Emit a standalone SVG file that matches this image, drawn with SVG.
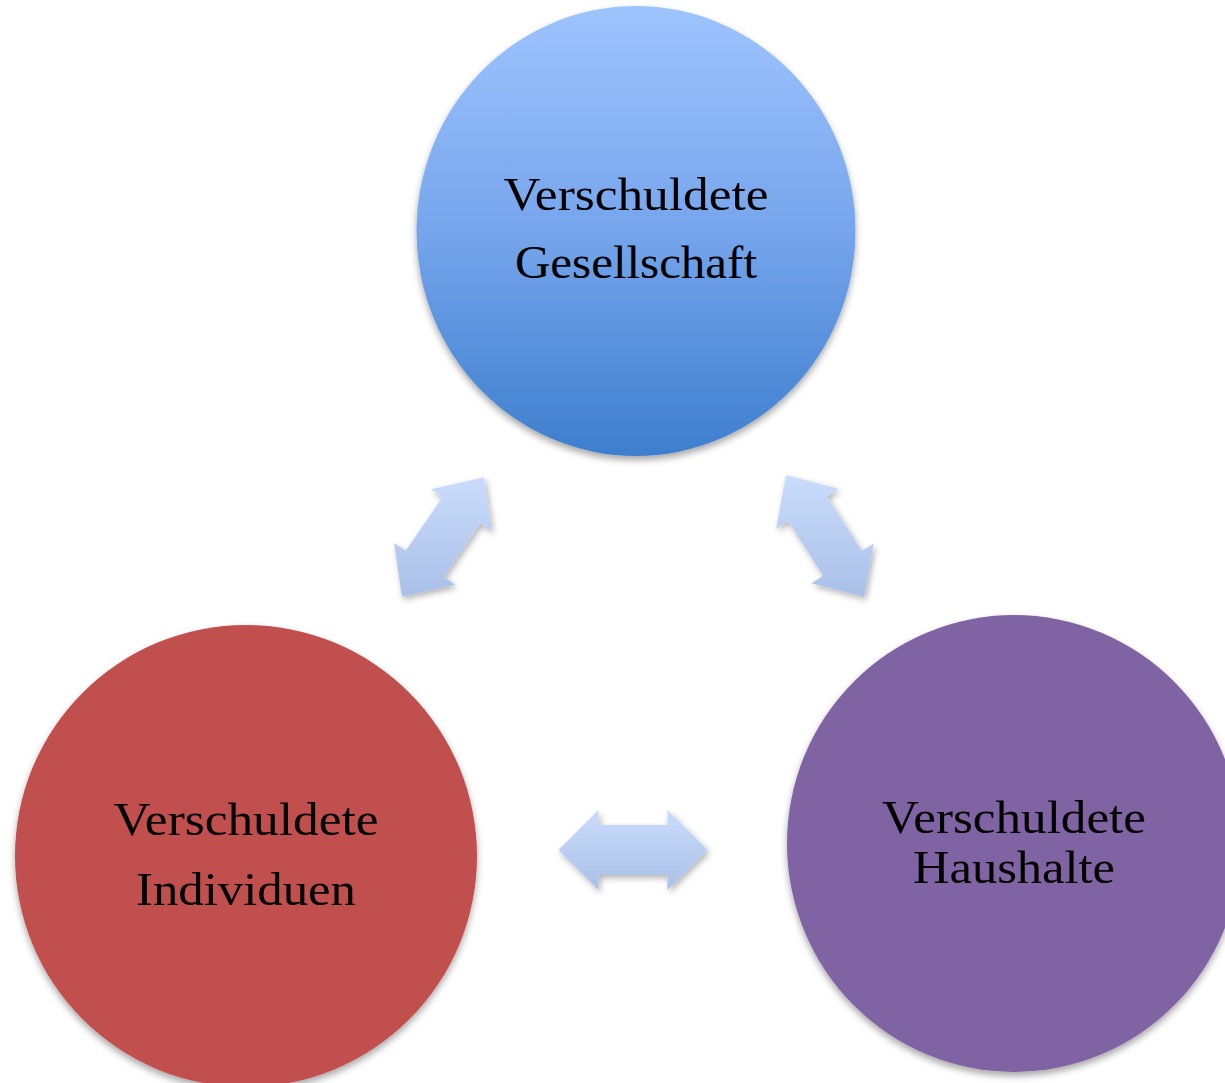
<svg xmlns="http://www.w3.org/2000/svg" width="1225" height="1083" viewBox="0 0 1225 1083">
<defs>
<linearGradient id="gBlue" x1="0" y1="0" x2="0" y2="1">
<stop offset="0" stop-color="#9ec4fe"/>
<stop offset="0.5" stop-color="#76a5ec"/>
<stop offset="1" stop-color="#3d7ecd"/>
</linearGradient>
<linearGradient id="gArrow" x1="0" y1="0" x2="0" y2="1">
<stop offset="0" stop-color="#cadcfc"/>
<stop offset="1" stop-color="#a9c0e7"/>
</linearGradient>
<filter id="shadow" x="-20%" y="-20%" width="140%" height="140%">
<feDropShadow dx="2" dy="3" stdDeviation="3" flood-color="#000" flood-opacity="0.3"/>
</filter>
<filter id="cshadow" x="-10%" y="-10%" width="120%" height="120%">
<feDropShadow dx="0" dy="4" stdDeviation="3.5" flood-color="#000" flood-opacity="0.35"/>
</filter>
<style>
.lbl{font-family:"Liberation Serif","DejaVu Serif",serif;font-size:46px;fill:#000;text-anchor:middle}
.arr{fill:url(#gArrow);filter:url(#shadow)}
</style>
</defs>
<g id="connectors">
<polygon class="arr" points="402,596.8 394.1,542.9 405.7,550.8 442.4,497.2 430.8,489.3 484,477.2 491.9,531.1 480.3,523.2 443.6,576.8 455.2,584.7"/>
<polygon class="arr" points="785.9,475 838.6,488.7 826.9,496.2 861.9,551 873.7,543.4 864.1,597.1 811.4,583.3 823.2,575.8 788.1,521 776.3,528.6"/>
<polygon class="arr" points="558.5,850 598.5,810 598.5,825 667.5,825 667.5,810 707.5,850 667.5,890 667.5,875 598.5,875 598.5,890"/>
</g>
<g id="node-gesellschaft">
<ellipse cx="636" cy="231" rx="219.5" ry="225" fill="url(#gBlue)" filter="url(#cshadow)"/>
<text class="lbl" x="636" y="210" textLength="265" lengthAdjust="spacingAndGlyphs">Verschuldete</text>
<text class="lbl" x="636" y="278" textLength="242" lengthAdjust="spacingAndGlyphs">Gesellschaft</text>
</g>
<g id="node-individuen">
<ellipse cx="246" cy="856" rx="231" ry="231" fill="#c0504d" filter="url(#cshadow)"/>
<text class="lbl" x="246" y="835" textLength="265" lengthAdjust="spacingAndGlyphs">Verschuldete</text>
<text class="lbl" x="246" y="905" textLength="220" lengthAdjust="spacingAndGlyphs">Individuen</text>
</g>
<g id="node-haushalte">
<ellipse cx="1014" cy="843.5" rx="227" ry="228.5" fill="#8064a2" filter="url(#cshadow)"/>
<text class="lbl" x="1014" y="833" textLength="264" lengthAdjust="spacingAndGlyphs">Verschuldete</text>
<text class="lbl" x="1014" y="883" textLength="202" lengthAdjust="spacingAndGlyphs">Haushalte</text>
</g>
</svg>
